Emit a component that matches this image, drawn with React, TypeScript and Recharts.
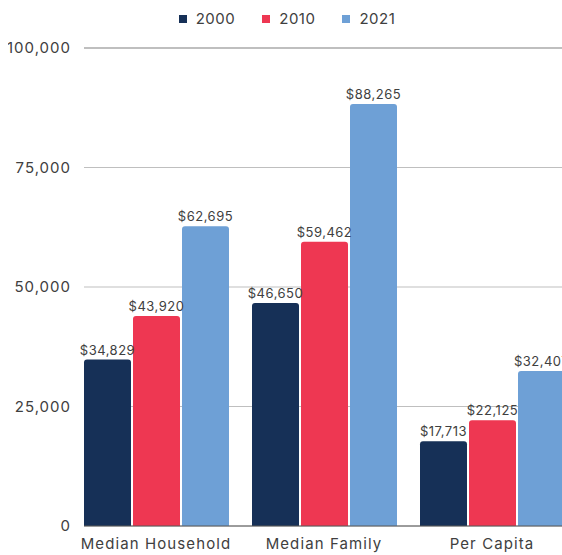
import React from 'react';
import { BarChart, Bar, XAxis, YAxis, CartesianGrid, ReferenceLine, Legend, LabelList } from 'recharts';

const categories = ['Median Household', 'Median Family', 'Per Capita'];
const years = ['2000', '2010', '2021'];
const values2000 = [34829, 46650, 17713];
const values2010 = [43920, 59462, 22125];
const values2021 = [62695, 88265, 32407];
const yTicks = [0, 25000, 50000, 75000, 100000];

const colors: Record<string, string> = {
  '2000': '#163057',
  '2010': '#ee3752',
  '2021': '#6ea0d6',
};

const data = categories.map((name, i) => ({
  name,
  '2000': values2000[i],
  '2010': values2010[i],
  '2021': values2021[i],
}));

const font = 'Inter, "Open Sans", sans-serif';

const formatMoney = (v: number) => '$' + v.toLocaleString('en-US');

const LegendContent = () => (
  <div style={{ display: 'flex', justifyContent: 'center', gap: 27, fontFamily: font, fontSize: 15, color: '#404040', letterSpacing: 0.5 }}>
    {years.map((y) => (
      <div key={y} style={{ display: 'flex', alignItems: 'center', gap: 9 }}>
        <span style={{ display: 'inline-block', width: 8, height: 8, background: colors[y] }} />
        <span>{y}</span>
      </div>
    ))}
  </div>
);

const App: React.FC = () => {
  return (
    <div style={{ width: 580, height: 547, padding: 8 }}>
      <style>{'html, body { overflow: hidden; margin: 0; }'}</style>
      <BarChart
        width={580}
        height={547}
        data={data}
        margin={{ top: 21, right: 12, left: 0, bottom: 0 }}
        barSize={47}
        barGap={2}
      >
        <CartesianGrid vertical={false} stroke="#bfbfbf" />
        <XAxis
          dataKey="name"
          padding={{ left: -12, right: 0 }}
          axisLine={{ stroke: '#595959' }}
          tickLine={false}
          tickMargin={6}
          height={29}
          tick={{ fontSize: 15, fill: '#404040', fontFamily: font, letterSpacing: 1.1 }}
        />
        <YAxis
          width={76}
          domain={[0, 100000]}
          ticks={yTicks}
          axisLine={false}
          tickLine={false}
          tickMargin={7}
          tickFormatter={(v: number) => v.toLocaleString('en-US')}
          tick={{ fontSize: 15, fill: '#404040', fontFamily: font, letterSpacing: 1 }}
        />
        <ReferenceLine y={100000} stroke="#bfbfbf" strokeWidth={2} />
        <Legend
          verticalAlign="top"
          content={<LegendContent />}
          wrapperStyle={{ top: 1, left: 0, width: 558 }}
        />
        {years.map((y) => (
          <Bar key={y} dataKey={y} fill={colors[y]} radius={[3, 3, 0, 0]} isAnimationActive={false}>
            <LabelList
              dataKey={y}
              position="top"
              offset={5}
              formatter={(v: number) => formatMoney(v)}
              style={{ fontSize: 13, fill: '#404040', fontFamily: font, letterSpacing: 0.5 }}
            />
          </Bar>
        ))}
      </BarChart>
    </div>
  );
};

export default App;
